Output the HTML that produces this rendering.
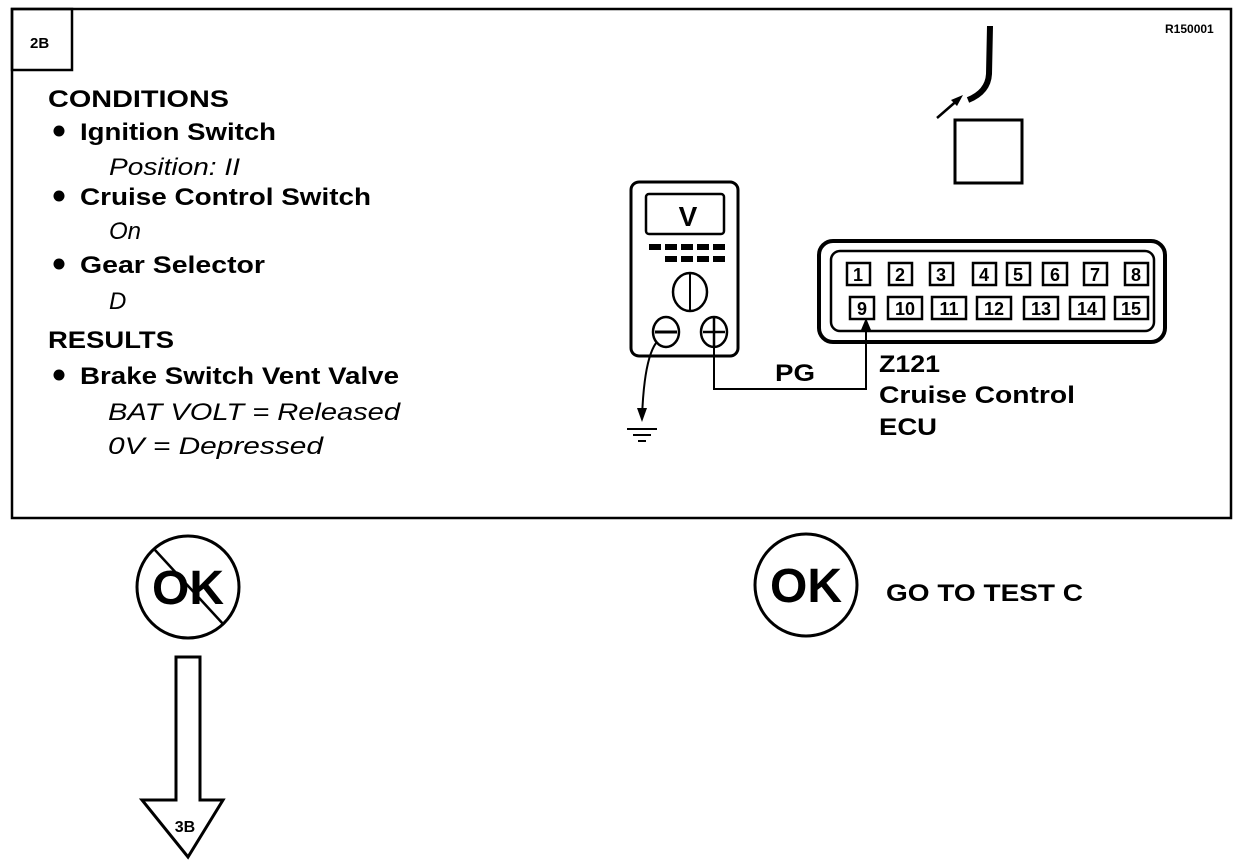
<!DOCTYPE html>
<html><head><meta charset="utf-8"><style>
html,body{margin:0;padding:0;background:#fff;}
svg{display:block;}
text{font-family:"Liberation Sans",Arial,sans-serif;fill:#000;}
.b{font-weight:bold;font-size:24px;}
.i{font-style:italic;font-size:24px;}
</style></head><body>
<svg width="1248" height="864" viewBox="0 0 1248 864" xmlns="http://www.w3.org/2000/svg">
<g fill="none" stroke="#000" stroke-width="3">
<rect x="12" y="9" width="1219" height="509" stroke-width="2.5"/>
<rect x="12" y="9" width="60" height="61" stroke-width="2.5"/>
</g>
<text x="30" y="48" class="b" style="font-size:15px">2B</text>
<text x="1165" y="33" style="font-size:12px;font-weight:bold">R150001</text>

<text x="48" y="107" class="b" textLength="181" lengthAdjust="spacingAndGlyphs">CONDITIONS</text>
<circle cx="59" cy="131" r="5.5"/>
<text x="80" y="140" class="b" textLength="196" lengthAdjust="spacingAndGlyphs">Ignition Switch</text>
<text x="109" y="175" class="i" textLength="131" lengthAdjust="spacingAndGlyphs">Position: II</text>
<circle cx="59" cy="196" r="5.5"/>
<text x="80" y="205" class="b" textLength="291" lengthAdjust="spacingAndGlyphs">Cruise Control Switch</text>
<text x="109" y="239" class="i">On</text>
<circle cx="59" cy="264" r="5.5"/>
<text x="80" y="273" class="b" textLength="185" lengthAdjust="spacingAndGlyphs">Gear Selector</text>
<text x="109" y="309" class="i">D</text>
<text x="48" y="348" class="b" textLength="126" lengthAdjust="spacingAndGlyphs">RESULTS</text>
<circle cx="59" cy="375" r="5.5"/>
<text x="80" y="384" class="b" textLength="319" lengthAdjust="spacingAndGlyphs">Brake Switch Vent Valve</text>
<text x="108" y="420" class="i" textLength="292" lengthAdjust="spacingAndGlyphs">BAT VOLT =  Released</text>
<text x="108" y="454" class="i" textLength="215" lengthAdjust="spacingAndGlyphs">0V =  Depressed</text>

<!-- cable & sensor -->
<path d="M990 26 L989 74 Q988 92 968 100" fill="none" stroke="#000" stroke-width="6"/>
<line x1="937" y1="118" x2="960" y2="98" stroke="#000" stroke-width="2.5"/>
<polygon points="963,95 951,100 957,106" fill="#000"/>
<rect x="955" y="120" width="67" height="63" fill="none" stroke="#000" stroke-width="3"/>

<!-- meter -->
<rect x="631" y="182" width="107" height="174" rx="8" fill="none" stroke="#000" stroke-width="3"/>
<rect x="646" y="194" width="78" height="40" rx="3" fill="none" stroke="#000" stroke-width="2.5"/>
<text x="688" y="226" class="b" text-anchor="middle" style="font-size:28px">V</text>
<g fill="#000">
<rect x="649" y="244" width="12" height="6"/><rect x="665" y="244" width="12" height="6"/><rect x="681" y="244" width="12" height="6"/><rect x="697" y="244" width="12" height="6"/><rect x="713" y="244" width="12" height="6"/>
<rect x="665" y="256" width="12" height="6"/><rect x="681" y="256" width="12" height="6"/><rect x="697" y="256" width="12" height="6"/><rect x="713" y="256" width="12" height="6"/>
</g>
<ellipse cx="690" cy="292" rx="17" ry="19" fill="none" stroke="#000" stroke-width="2.5"/>
<line x1="690" y1="274" x2="690" y2="310" stroke="#000" stroke-width="2"/>
<ellipse cx="666" cy="332" rx="13" ry="15" fill="none" stroke="#000" stroke-width="2.5"/>
<line x1="655" y1="332" x2="677" y2="332" stroke="#000" stroke-width="3"/>
<ellipse cx="714" cy="332" rx="13" ry="15" fill="none" stroke="#000" stroke-width="2.5"/>
<line x1="703" y1="332" x2="725" y2="332" stroke="#000" stroke-width="2.5"/>
<line x1="714" y1="318" x2="714" y2="346" stroke="#000" stroke-width="2.5"/>
<!-- ground wire -->
<path d="M656 343 Q644 360 642 418" fill="none" stroke="#000" stroke-width="2"/>
<polygon points="637,408 647,408 642,422" fill="#000"/>
<line x1="627" y1="429" x2="657" y2="429" stroke="#000" stroke-width="2"/>
<line x1="633" y1="435" x2="651" y2="435" stroke="#000" stroke-width="2"/>
<line x1="638" y1="441" x2="646" y2="441" stroke="#000" stroke-width="2"/>
<!-- plus wire -->
<polyline points="714,347 714,389 866,389 866,322" fill="none" stroke="#000" stroke-width="2"/>
<polygon points="861,330 871,330 866,318" fill="#000"/>
<text x="775" y="381" class="b" textLength="40" lengthAdjust="spacingAndGlyphs">PG</text>

<!-- connector -->
<rect x="819" y="241" width="346" height="101" rx="14" fill="none" stroke="#000" stroke-width="4"/>
<rect x="831" y="251" width="323" height="80" rx="9" fill="none" stroke="#000" stroke-width="2.5"/>
<g fill="none" stroke="#000" stroke-width="2.5">
<rect x="847" y="263" width="23" height="22"/><rect x="889" y="263" width="23" height="22"/><rect x="930" y="263" width="23" height="22"/><rect x="973" y="263" width="23" height="22"/><rect x="1007" y="263" width="23" height="22"/><rect x="1043" y="263" width="24" height="22"/><rect x="1084" y="263" width="23" height="22"/><rect x="1125" y="263" width="23" height="22"/>
<rect x="850" y="297" width="24" height="22"/><rect x="888" y="297" width="34" height="22"/><rect x="932" y="297" width="34" height="22"/><rect x="977" y="297" width="34" height="22"/><rect x="1024" y="297" width="34" height="22"/><rect x="1070" y="297" width="34" height="22"/><rect x="1115" y="297" width="33" height="22"/>
</g>
<g style="font-size:18px;font-weight:bold" text-anchor="middle">
<text x="858" y="281">1</text><text x="900" y="281">2</text><text x="941" y="281">3</text><text x="984" y="281">4</text><text x="1018" y="281">5</text><text x="1055" y="281">6</text><text x="1095" y="281">7</text><text x="1136" y="281">8</text>
<text x="862" y="315">9</text><text x="905" y="315">10</text><text x="949" y="315">11</text><text x="994" y="315">12</text><text x="1041" y="315">13</text><text x="1087" y="315">14</text><text x="1131" y="315">15</text>
</g>
<text x="879" y="372" class="b" textLength="61" lengthAdjust="spacingAndGlyphs">Z121</text>
<text x="879" y="403" class="b" textLength="196" lengthAdjust="spacingAndGlyphs">Cruise Control</text>
<text x="879" y="435" class="b" textLength="58" lengthAdjust="spacingAndGlyphs">ECU</text>

<!-- bottom -->
<circle cx="188" cy="587" r="51" fill="none" stroke="#000" stroke-width="3"/>
<text x="188" y="604" class="b" text-anchor="middle" style="font-size:48px">OK</text>
<line x1="155" y1="550" x2="224" y2="625" stroke="#000" stroke-width="2.5"/>
<circle cx="806" cy="585" r="51" fill="none" stroke="#000" stroke-width="3"/>
<text x="806" y="602" class="b" text-anchor="middle" style="font-size:48px">OK</text>
<text x="886" y="601" class="b" textLength="197" lengthAdjust="spacingAndGlyphs">GO TO TEST C</text>

<polygon points="176,657 200,657 200,800 223,800 188,857 142,800 176,800" fill="none" stroke="#000" stroke-width="3" stroke-linejoin="miter"/>
<text x="185" y="832" class="b" text-anchor="middle" style="font-size:16px">3B</text>
</svg>
</body></html>
